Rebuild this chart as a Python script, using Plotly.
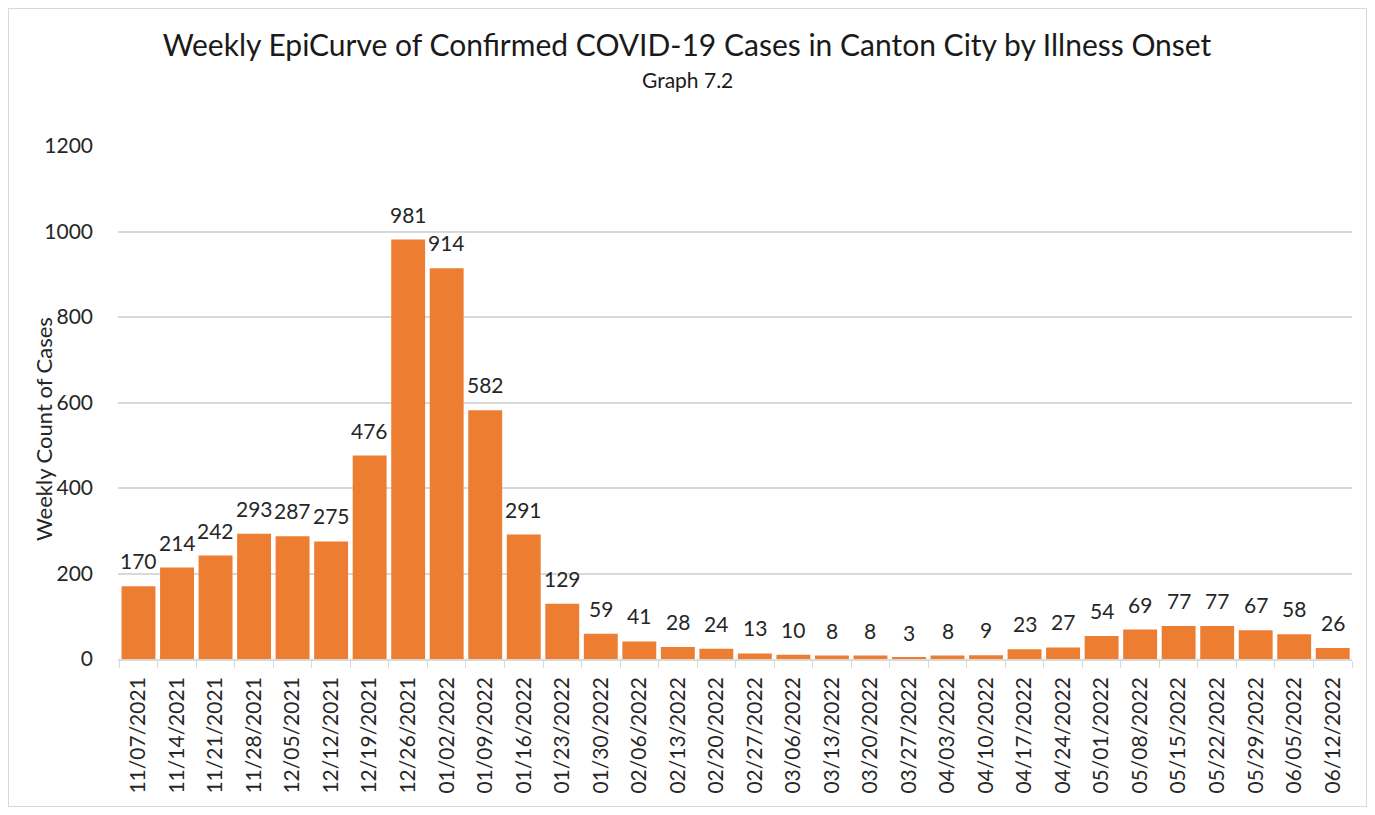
"""Weekly EpiCurve - Plotly bar chart."""

import plotly.graph_objects as go

weeks = [
    "11/07/2021", "11/14/2021", "11/21/2021", "11/28/2021", "12/05/2021",
    "12/12/2021", "12/19/2021", "12/26/2021", "01/02/2022", "01/09/2022",
    "01/16/2022", "01/23/2022", "01/30/2022", "02/06/2022", "02/13/2022",
    "02/20/2022", "02/27/2022", "03/06/2022", "03/13/2022", "03/20/2022",
    "03/27/2022", "04/03/2022", "04/10/2022", "04/17/2022", "04/24/2022",
    "05/01/2022", "05/08/2022", "05/15/2022", "05/22/2022", "05/29/2022",
    "06/05/2022", "06/12/2022",
]
cases = [
    170, 214, 242, 293, 287, 275, 476, 981, 914, 582,
    291, 129, 59, 41, 28, 24, 13, 10, 8, 8,
    3, 8, 9, 23, 27, 54, 69, 77, 77, 67,
    58, 26,
]
y_ticks = [0, 200, 400, 600, 800, 1000, 1200]

FONT = "Lato, 'Open Sans', sans-serif"
TXT = "#262626"
# page body has an 8px margin, so the figure is a bit smaller than the window
W, H = 1359, 799
L, R, T, B = 110, 15, 138, 148
pw, ph = W - L - R, H - T - B

fig = go.Figure(go.Bar(
    x=weeks, y=cases,
    marker=dict(color="#ED7D31", line=dict(width=0)),
    hoverinfo="x+y",
))

# value labels above bars
for wk, v in zip(weeks, cases):
    fig.add_annotation(
        x=wk, y=v, text=str(v), showarrow=False,
        yanchor="bottom", yshift=11,
        font=dict(size=21, color=TXT, family=FONT),
    )

# subtitle
fig.add_annotation(
    text="Graph 7.2", xref="paper", yref="paper",
    x=(679 - L) / pw, y=(H - B - 72) / ph, yanchor="middle", showarrow=False,
    font=dict(size=21, color="#1a1a1a", family=FONT),
)

# y axis title
fig.add_annotation(
    text="Weekly Count of Cases", xref="paper", yref="paper",
    x=(35 - L) / pw, y=(H - B - 421) / ph, textangle=-90,
    xanchor="center", yanchor="middle", showarrow=False,
    font=dict(size=22, color=TXT, family=FONT),
)

# chart border
fig.add_shape(
    type="rect", xref="paper", yref="paper",
    x0=-L / pw, x1=1 + R / pw,
    y0=-B / ph, y1=1 + T / ph,
    line=dict(color="#d9d9d9", width=2),
)

fig.update_layout(
    width=W, height=H,
    margin=dict(l=L, r=R, t=T, b=B, autoexpand=False),
    paper_bgcolor="white", plot_bgcolor="white",
    font=dict(family=FONT, color=TXT),
    bargap=0.12,
    showlegend=False,
    title=dict(
        text="Weekly EpiCurve of Confirmed COVID-19 Cases in Canton City by Illness Onset",
        x=679 / W, xanchor="center", xref="container",
        y=1 - 37 / H, yanchor="middle",
        font=dict(size=30, color="#1a1a1a", family=FONT),
    ),
)
fig.update_xaxes(
    type="category", tickangle=-90, automargin=False,
    tickfont=dict(size=21, color=TXT),
    showline=True, linecolor="#d9d9d9", linewidth=1.5,
    ticks="outside", tickson="boundaries", ticklen=7, tickcolor="#d9d9d9",
    ticklabelstandoff=8,
    showgrid=False,
)
fig.update_yaxes(
    range=[0, 1200], tickvals=y_ticks, automargin=False,
    tickfont=dict(size=21, color=TXT),
    showgrid=True, gridcolor="#d9d9d9", gridwidth=1.5,
    zeroline=False, ticks="", ticklabelstandoff=24,
)

fig.write_html("out.html")
